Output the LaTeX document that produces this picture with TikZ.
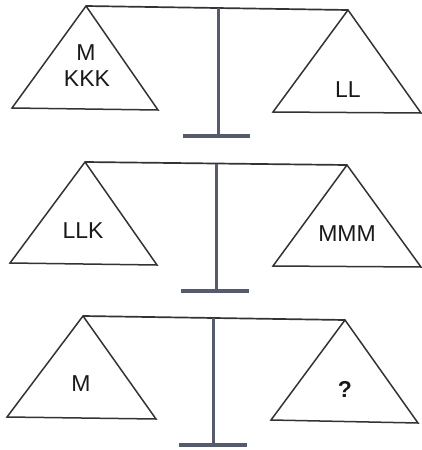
\documentclass[tikz,border=0pt]{standalone}
\usepackage{fontspec}
\setmainfont{Liberation Sans}
\definecolor{linec}{HTML}{333333}
\definecolor{postc}{HTML}{555A6C}
\tikzset{
  pan/.style={draw=linec, line width=1.5pt, line join=miter},
  beam/.style={draw=linec, line width=1.7pt},
  post/.style={draw=postc, line width=3pt},
  basebar/.style={draw=postc, line width=4.5pt},
  lbl/.style={inner sep=0pt, font=\fontsize{23}{26}\selectfont, text=black!90, align=center}
}
\begin{document}
\begin{tikzpicture}[x=1pt,y=-1pt]
\useasboundingbox (0,0) rectangle (422,450);
% ---------- scale 1 ----------
\coordinate (a1L) at (86,6);
\coordinate (a1R) at (348,10);
\coordinate (p1t) at (218,8);
\coordinate (p1b) at (218,136);
\coordinate (b1l) at (183,136);
\coordinate (b1r) at (250,136);
\draw[pan] (a1L) -- (12,108) -- (158,110) -- cycle;
\draw[pan] (a1R) -- (273,112) -- (421,113) -- cycle;
\draw[beam] (a1L) -- (a1R);
\draw[post] (p1t) -- (p1b);
\draw[basebar] (b1l) -- (b1r);
\node[lbl] (t1a) at (86,53) {M};
\node[lbl] (t1b) at (87,79) {KKK};
\node[lbl] (t1c) at (348,90) {LL};
% ---------- scale 2 ----------
\coordinate (a2L) at (85,162);
\coordinate (a2R) at (347,165);
\coordinate (p2t) at (216,164);
\coordinate (p2b) at (216,291);
\coordinate (b2l) at (181,291);
\coordinate (b2r) at (249,291);
\draw[pan] (a2L) -- (10,263) -- (157,265) -- cycle;
\draw[pan] (a2R) -- (273,266) -- (421,267) -- cycle;
\draw[beam] (a2L) -- (a2R);
\draw[post] (p2t) -- (p2b);
\draw[basebar] (b2l) -- (b2r);
\node[lbl] (t2a) at (83,231) {LLK};
\node[lbl] (t2b) at (347,234) {MMM};
% ---------- scale 3 ----------
\coordinate (a3L) at (83,316);
\coordinate (a3R) at (345,320);
\coordinate (p3t) at (213,318);
\coordinate (p3b) at (213,445);
\coordinate (b3l) at (179,445);
\coordinate (b3r) at (247,445);
\draw[pan] (a3L) -- (7,417) -- (156,419) -- cycle;
\draw[pan] (a3R) -- (271,420) -- (418,423) -- cycle;
\draw[beam] (a3L) -- (a3R);
\draw[post] (p3t) -- (p3b);
\draw[basebar] (b3l) -- (b3r);
\node[lbl] (t3a) at (81,384) {M};
\node[lbl, font=\fontsize{23}{26}\selectfont\bfseries] (t3b) at (345,389) {?};
\end{tikzpicture}
\end{document}
